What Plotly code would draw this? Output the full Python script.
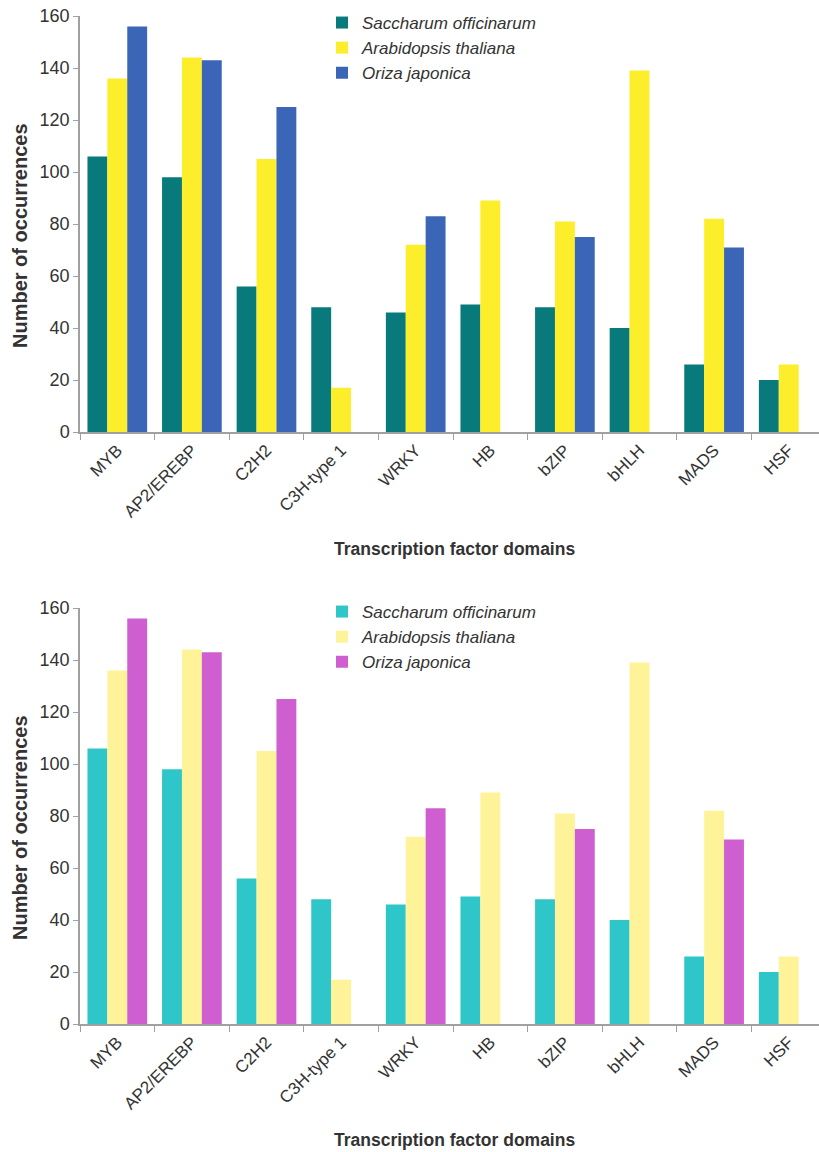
import plotly.graph_objects as go

categories = ["MYB", "AP2/EREBP", "C2H2", "C3H-type 1", "WRKY", "HB", "bZIP", "bHLH", "MADS", "HSF"]
saccharum = [106, 98, 56, 48, 46, 49, 48, 40, 26, 20]
arabidopsis = [136, 144, 105, 17, 72, 89, 81, 139, 82, 26]
oriza = [156, 143, 125, 0, 83, 0, 75, 0, 71, 0]
series_names = ["Saccharum officinarum", "Arabidopsis thaliana", "Oriza japonica"]
y_ticks = [0, 20, 40, 60, 80, 100, 120, 140, 160]

top_colors = ["#087A7C", "#FCEE2A", "#3B66B8"]
bottom_colors = ["#2EC6C8", "#FFF39A", "#CF5FD0"]

# body margin removed via post_script, so figure coordinates = page coordinates
W, H = 819, 1152


def py(page_y):
    return 1 - page_y / H


def px(page_x):
    return page_x / W


fig = go.Figure()
values = [saccharum, arabidopsis, oriza]

for i, (name, vals) in enumerate(zip(series_names, values)):
    fig.add_trace(go.Bar(x=categories, y=vals, name=name, marker_color=top_colors[i],
                         marker_line_width=0, xaxis="x", yaxis="y", legend="legend"))
for i, (name, vals) in enumerate(zip(series_names, values)):
    fig.add_trace(go.Bar(x=categories, y=vals, name=name, marker_color=bottom_colors[i],
                         marker_line_width=0, xaxis="x2", yaxis="y2", legend="legend2"))

font_family = "Liberation Sans, Arial, sans-serif"
xaxis_common = dict(
    type="category", range=[-0.5, 9.406], tickangle=-45, showgrid=False, automargin=False,
    showline=True, linecolor="#A0A0A0", linewidth=1.5, ticks="outside", tickson="boundaries",
    ticklen=6, tickcolor="#A0A0A0", tickfont=dict(size=17, color="#333333", family=font_family),
    ticklabeloverflow="allow",
    domain=[px(80), 1.0], fixedrange=True,
)
yaxis_common = dict(
    range=[0, 160], tickvals=y_ticks, showgrid=False, zeroline=False, automargin=False,
    showline=True, linecolor="#A0A0A0", linewidth=1.5, ticks="outside", ticklen=5, tickcolor="#A0A0A0",
    tickfont=dict(size=18, color="#333333", family=font_family), ticklabeloverflow="allow",
)

ytitle_font = dict(size=20, color="#333333", family=font_family)
xtitle_font = dict(size=17.5, color="#333333", family=font_family)
legend_font = dict(size=17, color="#333333", family=font_family, style="italic")
fig.update_layout(
    width=W, height=H,
    margin=dict(l=0, r=0, t=0, b=0, autoexpand=False),
    paper_bgcolor="white", plot_bgcolor="white",
    barmode="group", bargap=0.2, bargroupgap=0.0,
    xaxis=dict(**xaxis_common, anchor="y"),
    yaxis=dict(**yaxis_common, domain=[py(432), py(16)], anchor="x"),
    xaxis2=dict(**xaxis_common, anchor="y2"),
    yaxis2=dict(**yaxis_common, domain=[py(1024), py(608)], anchor="x2"),
    legend=dict(x=px(322), y=py(5), xanchor="left", yanchor="top", bgcolor="rgba(0,0,0,0)",
                font=legend_font, itemwidth=30, tracegroupgap=0, traceorder="normal"),
    legend2=dict(x=px(322), y=py(594), xanchor="left", yanchor="top", bgcolor="rgba(0,0,0,0)",
                 font=legend_font, itemwidth=30, tracegroupgap=0, traceorder="normal"),
    showlegend=True,
    annotations=[
        dict(text="<b>Number of occurrences</b>", xref="paper", yref="paper", x=px(20), y=py(236),
             textangle=-90, showarrow=False, font=ytitle_font, xanchor="center", yanchor="middle"),
        dict(text="<b>Number of occurrences</b>", xref="paper", yref="paper", x=px(20), y=py(828),
             textangle=-90, showarrow=False, font=ytitle_font, xanchor="center", yanchor="middle"),
        dict(text="<b>Transcription factor domains</b>", xref="paper", yref="paper", x=px(454), y=py(549),
             showarrow=False, font=xtitle_font, xanchor="center", yanchor="middle"),
        dict(text="<b>Transcription factor domains</b>", xref="paper", yref="paper", x=px(454), y=py(1140),
             showarrow=False, font=xtitle_font, xanchor="center", yanchor="middle"),
    ],
)

fig.write_html("out.html", config={"displayModeBar": False},
               post_script="document.body.style.margin='0px';")
